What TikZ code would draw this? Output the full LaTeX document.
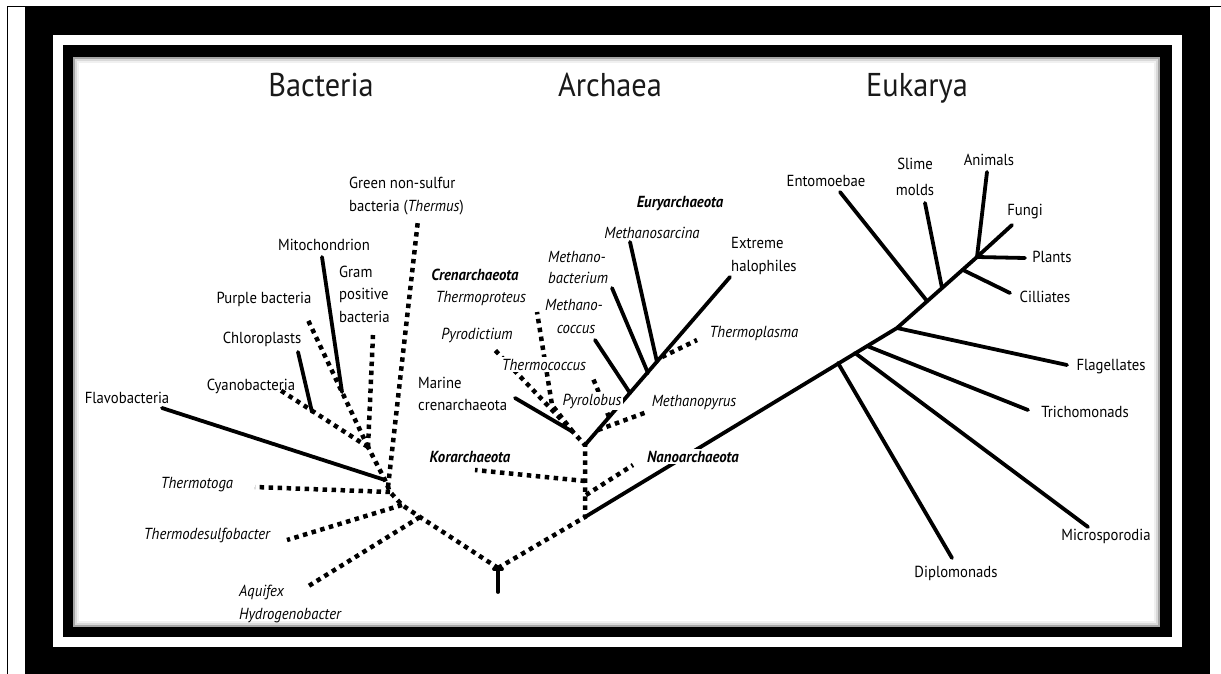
\documentclass[tikz,border=0pt]{standalone}
\usepackage{fontspec}
\setmainfont{PT Sans}[FakeStretch=0.92]
\usepackage{tikz}

\tikzset{
    branch/.style={line width=3.8pt, line cap=round, black},
    dotbranch/.style={line width=4.5pt, dash pattern=on 4.5pt off 4.5pt, black},
    domainlabel/.style={anchor=base, inner sep=0pt, font=\fontsize{33}{36}\selectfont, text=black!90},
    taxon/.style={anchor=base, inner sep=1pt, font=\fontsize{16}{20}\selectfont, text=black},
    taxonleft/.style={taxon, anchor=base west},
    genus/.style={taxon, font=\fontsize{16}{20}\selectfont\itshape},
    genusleft/.style={genus, anchor=base west},
    kingdom/.style={taxon, font=\fontsize{16}{20}\selectfont\bfseries\itshape},
    cover/.style={fill=white, inner sep=1.5pt}
}

\begin{document}
\begin{tikzpicture}[x=1pt, y=-1pt]
    \useasboundingbox (0,0) rectangle (1221,674);
    \fill[white] (0,0) rectangle (1221,674);
    \draw[line width=1.5pt] (7.5,674) -- (7.5,6.5) -- (1221,6.5);
    \fill[black] (25,7) rectangle (1210,674);
    \fill[white] (53,35) rectangle (1182,647);
    \fill[black] (63,45) rectangle (1172,637);
    \fill[white] (73,57) rectangle (1160,627);
    \draw[black!35, line width=2pt] (74,58) rectangle (1159,626);
    \draw[black!15, line width=2pt] (76,60) rectangle (1157,624);
    \draw[black!6, line width=2pt] (78,62) rectangle (1155,622);

    \node[domainlabel] (bacteria) at (321,97) {Bacteria};
    \node[domainlabel] (archaea) at (610,97) {Archaea};
    \node[domainlabel] (eukarya) at (917,97) {Eukarya};

    % junctions
    \coordinate (root) at (498,568);
    \coordinate (rootend) at (498,592);
    \coordinate (rootbarL) at (494,569);
    \coordinate (rootbarR) at (502,569);
    \coordinate (bAqu) at (420,517);
    \coordinate (bTds) at (402,505);
    \coordinate (bTtg) at (390,492);
    \coordinate (bGns) at (388,487);
    \coordinate (bFla) at (385,480);
    \coordinate (bHub) at (368,447);
    \coordinate (bMit) at (342,392);
    \coordinate (bChl) at (312,412);
    \coordinate (aRoot) at (585,517);
    \coordinate (aNan) at (586,495);
    \coordinate (aKor) at (585,481);
    \coordinate (aTop) at (585,445);
    \coordinate (aCre) at (573,432);
    \coordinate (eMpy) at (598,430);
    \coordinate (eTcc) at (609,417);
    \coordinate (eMcc) at (630,393);
    \coordinate (eMba) at (648,373);
    \coordinate (eMsa) at (657,362);
    \coordinate (eTpl) at (662,357);
    \coordinate (kDip) at (838,363);
    \coordinate (kMic) at (855,353);
    \coordinate (kTri) at (867,346);
    \coordinate (kFla) at (897,328);
    \coordinate (kEnt) at (927,301);
    \coordinate (kSli) at (942,288);
    \coordinate (kCil) at (963,270);
    \coordinate (kCrown) at (977,257);

    % leaf ends
    \coordinate (lAqu) at (307,587);
    \coordinate (lTds) at (287,540);
    \coordinate (lTtg) at (255,487);
    \coordinate (lFla) at (162,408);
    \coordinate (lGns) at (418,220);
    \coordinate (lGram) at (373,335);
    \coordinate (lPur) at (307,318);
    \coordinate (lMit) at (322,257);
    \coordinate (lCya) at (280,390);
    \coordinate (lChl) at (298,352);
    \coordinate (lKor) at (475,470);
    \coordinate (lNan) at (633,465);
    \coordinate (lMar) at (515,398);
    \coordinate (lTpr) at (537,312);
    \coordinate (lTprMid) at (552,405);
    \coordinate (lPyd) at (493,348);
    \coordinate (lTcc) at (592,376);
    \coordinate (lMpy) at (647,412);
    \coordinate (lMcc) at (595,340);
    \coordinate (lMba) at (612,288);
    \coordinate (lMsa) at (630,242);
    \coordinate (lTpl) at (697,340);
    \coordinate (lHal) at (730,277);
    \coordinate (lDip) at (952,558);
    \coordinate (lMic) at (1088,527);
    \coordinate (lTri) at (1028,410);
    \coordinate (lFlg) at (1067,365);
    \coordinate (lEnt) at (840,192);
    \coordinate (lSli) at (925,203);
    \coordinate (lCil) at (1010,293);
    \coordinate (lAni) at (987,172);
    \coordinate (lFun) at (1012,225);
    \coordinate (lPla) at (1025,258);

    \draw[branch] (root) -- (rootend);
    \draw[branch] (rootbarL) -- (rootbarR);
    \draw[dotbranch] (root) -- (bAqu) -- (bTds) -- (bTtg) -- (bFla) -- (bHub);
    \draw[dotbranch] (root) -- (aRoot) -- (aTop) -- (aCre);

    \draw[dotbranch] (bAqu) -- (lAqu);
    \draw[dotbranch] (bTds) -- (lTds);
    \draw[dotbranch] (bTtg) -- (lTtg);
    \draw[branch] (bFla) -- (lFla);
    \draw[dotbranch] (bGns) -- (lGns);
    \draw[dotbranch] (bHub) -- (lGram);
    \draw[dotbranch] (bHub) -- (lPur);
    \draw[branch] (bMit) -- (lMit);
    \draw[dotbranch] (bHub) -- (lCya);
    \draw[branch] (bChl) -- (lChl);

    \draw[dotbranch] (aKor) -- (lKor);
    \draw[dotbranch] (aNan) -- (lNan);
    \draw[branch] (aCre) -- (lMar);
    \draw[dotbranch] (aCre) -- (lTprMid) -- (lTpr);
    \draw[dotbranch] (aCre) -- (lPyd);
    \draw[branch] (aTop) -- (lHal);
    \draw[dotbranch] (eMpy) -- (lMpy);
    \draw[dotbranch] (eTcc) -- (lTcc);
    \draw[branch] (eMcc) -- (lMcc);
    \draw[branch] (eMba) -- (lMba);
    \draw[branch] (eMsa) -- (lMsa);
    \draw[dotbranch] (eTpl) -- (lTpl);

    \draw[branch] (aRoot) -- (kFla) -- (kCrown);
    \draw[branch] (kDip) -- (lDip);
    \draw[branch] (kMic) -- (lMic);
    \draw[branch] (kTri) -- (lTri);
    \draw[branch] (kFla) -- (lFlg);
    \draw[branch] (kEnt) -- (lEnt);
    \draw[branch] (kSli) -- (lSli);
    \draw[branch] (kCil) -- (lCil);
    \draw[branch] (kCrown) -- (lAni);
    \draw[branch] (kCrown) -- (lFun);
    \draw[branch] (kCrown) -- (lPla);

    \node[taxonleft] (greenA) at (348,189) {Green non-sulfur};
    \node[taxonleft] (greenB) at (348,211) {bacteria (\textit{Thermus})};
    \node[taxon] (mito) at (324,250) {Mitochondrion};
    \node[taxonleft] (gramA) at (338,277) {Gram};
    \node[taxonleft] (gramB) at (338,299) {positive};
    \node[taxonleft] (gramC) at (338,322) {bacteria};
    \node[taxon] (purple) at (264,303) {Purple bacteria};
    \node[taxon] (chloro) at (262,343) {Chloroplasts};
    \node[taxon] (cyano) at (251,390) {Cyanobacteria};
    \node[taxon] (flavo) at (127,403) {Flavobacteria};
    \node[genus] (thermotoga) at (197,488) {Thermotoga};
    \node[genus] (thermodesulfo) at (207,539) {Thermodesulfobacter};
    \node[genusleft] (aquifex) at (238,596) {Aquifex};
    \node[genusleft] (hydrogeno) at (238,619) {Hydrogenobacter};

    \node[kingdom] (crenarch) at (475,280) {Crenarchaeota};
    \node[genus] (thermoproteus) at (481,302) {Thermoproteus};
    \node[genus] (pyrodictium) at (477,339) {Pyrodictium};
    \node[genus, cover] (thermococcus) at (544,370) {Thermococcus};
    \node[taxonleft] (marineA) at (417,388) {Marine};
    \node[taxonleft] (marineB) at (417,410) {crenarchaeota};
    \node[genus, cover] (pyrolobus) at (592,405) {Pyrolobus};
    \node[genus] (methanopyrus) at (694,406) {Methanopyrus};
    \node[genusleft] (mbactA) at (547,262) {Methano-};
    \node[genusleft] (mbactB) at (547,283) {bacterium};
    \node[genus] (mcoccA) at (574,310) {Methano-};
    \node[genus] (mcoccB) at (576,333) {coccus};
    \node[genus] (msarcina) at (652,238) {Methanosarcina};
    \node[kingdom] (euryarch) at (680,207) {Euryarchaeota};
    \node[taxonleft] (haloA) at (730,248) {Extreme};
    \node[taxonleft] (haloB) at (730,271) {halophiles};
    \node[genus] (thermoplasma) at (754,337) {Thermoplasma};
    \node[kingdom] (korarch) at (470,462) {Korarchaeota};
    \node[kingdom, cover] (nanoarch) at (693,462) {Nanoarchaeota};

    \node[taxon] (entamoebae) at (826,186) {Entomoebae};
    \node[taxon] (slimeA) at (915,170) {Slime};
    \node[taxon] (slimeB) at (915,195) {molds};
    \node[taxon] (animals) at (989,165) {Animals};
    \node[taxon] (fungi) at (1025,215) {Fungi};
    \node[taxon] (plants) at (1052,262) {Plants};
    \node[taxon] (cilliates) at (1045,302) {Cilliates};
    \node[taxon] (flagellates) at (1111,370) {Flagellates};
    \node[taxon] (trichomonads) at (1085,417) {Trichomonads};
    \node[taxon] (microsporodia) at (1106,540) {Microsporodia};
    \node[taxon] (diplomonads) at (956,577) {Diplomonads};
\end{tikzpicture}
\end{document}
